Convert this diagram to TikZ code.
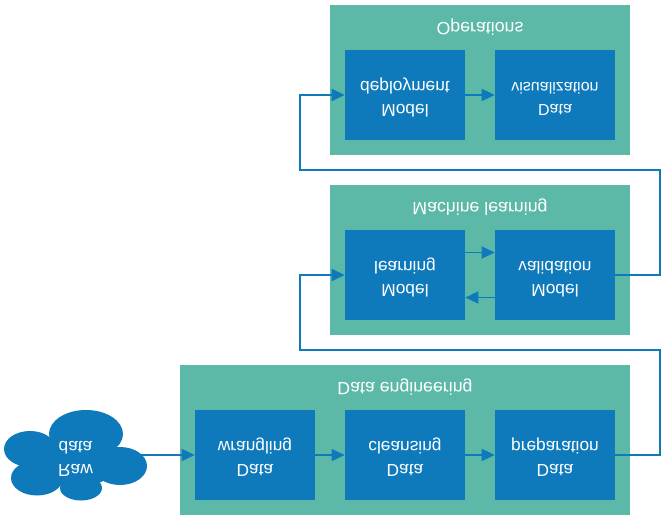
\documentclass[tikz,border=0pt]{standalone}
\usepackage{fontspec}
\setmainfont{Liberation Sans}
\usetikzlibrary{arrows.meta, calc}
\definecolor{panelgreen}{HTML}{5CB9A7}
\definecolor{stepblue}{HTML}{0E7ABB}
\tikzset{
    panel node/.style={rectangle, fill=panelgreen, minimum height=112.5pt, inner sep=0pt},
    title node/.style={font=\fontsize{13.3}{15}\selectfont, text=white, yscale=-1, inner sep=0pt},
    task node/.style={rectangle, fill=stepblue, minimum width=90pt, minimum height=67.5pt, inner sep=0pt, align=center, font=\fontsize{13}{17}\selectfont, text=white, text depth=6pt, yscale=-1},
    flow/.style={draw=stepblue, line width=1pt, -{Triangle[length=9.75pt, width=9pt]}},
    long flow/.style={flow, line width=1.5pt},
}
\begin{document}
\begin{tikzpicture}[x=0.75pt, y=-0.75pt]
            \useasboundingbox (0,0) rectangle (666,523);
            % panels
            \node[panel node, minimum width=225pt] (operations) at (480,80) {};
            \node[panel node, minimum width=225pt] (machine) at (480,260) {};
            \node[panel node, minimum width=337.5pt] (engineering) at (405,440) {};
            \node[title node] (operationstitle) at (480,27) {Operations};
            \node[title node] (machinetitle) at (480,207) {Machine learning};
            \node[title node] (engineeringtitle) at (405,387) {Data engineering};
            % tasks
            \node[task node] (deployment) at (405,95) {Model\\deployment};
            \node[task node, font=\fontsize{12}{17}\selectfont] (visualization) at (555,95) {Data\\visualization};
            \node[task node] (learning) at (405,275) {Model\\learning};
            \node[task node] (validation) at (555,275) {Model\\validation};
            \node[task node] (wrangling) at (255,455) {Data\\wrangling};
            \node[task node] (cleansing) at (405,455) {Data\\cleansing};
            \node[task node] (preparation) at (555,455) {Data\\preparation};
            % cloud
            \foreach \cx/\cy/\rx/\ry in {86/434/37/24, 30/449/26/18, 120/466/27/19, 37/478/26/17.5, 81/488/21/12.5, 75/460/45/27}
                \fill[stepblue] (\cx,\cy) ellipse [x radius=\rx, y radius=\ry];
            \node[task node, fill=none, minimum width=94pt] (rawdata) at (75.5,455) {Raw\\data};
            % turning points
            \coordinate (turnlower) at (660,350);
            \coordinate (backlower) at (300,350);
            \coordinate (turnupper) at (660,170);
            \coordinate (backupper) at (300,170);
            % connectors
            \path[flow] (rawdata.east) -- (wrangling.west);
            \path[flow] (wrangling.east) -- (cleansing.west);
            \path[flow] (cleansing.east) -- (preparation.west);
            \path[flow] (deployment.east) -- (visualization.west);
            \path[flow] ($(learning.east)+(0,-22.5)$) -- ($(validation.west)+(0,-22.5)$);
            \path[flow] ($(validation.west)+(0,22.5)$) -- ($(learning.east)+(0,22.5)$);
            \path[long flow] (preparation.east) -| (turnlower) -- (backlower) |- (learning.west);
            \path[long flow] (validation.east) -| (turnupper) -- (backupper) |- (deployment.west);
        \end{tikzpicture}
\end{document}
